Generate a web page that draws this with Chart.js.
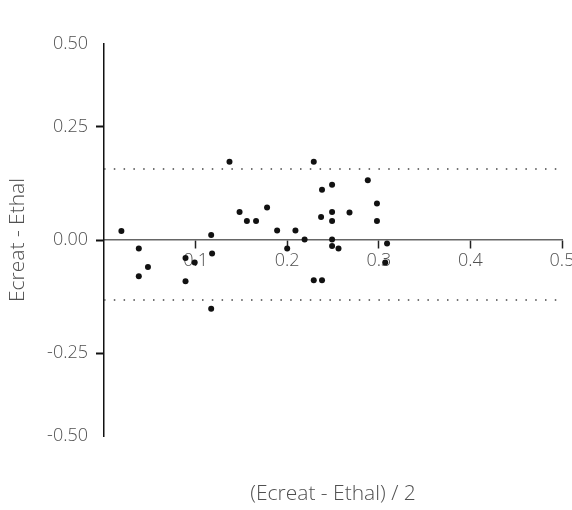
<!DOCTYPE html>
<html lang="en">
<head>
    <meta charset="UTF-8">
    <title>Ecreat - Ethal</title>
    <script src="https://cdn.jsdelivr.net/npm/chart.js"></script>
    <style>
        body { margin: 0; background: #fff; }
        canvas { display: block; }
    </style>
</head>
<body>
    <canvas id="baChart" width="572" height="510"></canvas>

    <script>
        // mean (x) and difference (y) of each paired measurement
        const meanVals = [
            0.019, 0.038, 0.038, 0.048, 0.089, 0.099, 0.089, 0.117, 0.118, 0.117,
            0.137, 0.148, 0.156, 0.166, 0.178, 0.189, 0.200, 0.209, 0.219, 0.229,
            0.229, 0.238, 0.238, 0.249, 0.237, 0.249, 0.249, 0.249, 0.249, 0.256,
            0.288, 0.298, 0.298, 0.268, 0.309, 0.307
        ];
        const diffVals = [
            0.020, -0.019, -0.080, -0.060, -0.040, -0.050, -0.091, 0.011, -0.030, -0.152,
            0.173, 0.062, 0.042, 0.042, 0.072, 0.021, -0.019, 0.021, 0.001, 0.173,
            -0.089, -0.089, 0.111, 0.122, 0.051, 0.062, 0.042, 0.001, -0.013, -0.019,
            0.132, 0.081, 0.042, 0.061, -0.008, -0.050
        ];
        // limits of agreement
        const upperLimit = 0.157;
        const lowerLimit = -0.133;

        const xTicks = [0.1, 0.2, 0.3, 0.4, 0.5];
        const xTickLabels = ['0.1', '0.2', '0.3', '0.4', '0.5'];
        // the axis ends carry the outer labels
        const yEnd = 0.4336;
        const yTicks = [-yEnd, -0.25, 0, 0.25, yEnd];
        const yTickLabels = ['-0.50', '-0.25', '0.00', '0.25', '0.50'];

        const points = meanVals.map((x, i) => ({ x: x, y: diffVals[i] }));
        const limitLine = v => [{ x: 0, y: v }, { x: 0.5, y: v }];

        const tickFont = { family: 'Open Sans', size: 18, weight: 300 };
        const titleFont = { family: 'Open Sans', size: 21, weight: 300 };
        const textColor = '#505050';

        const dotted = {
            type: 'line',
            borderColor: '#444',
            borderWidth: 1.5,
            borderDash: [1.5, 8.3],
            pointRadius: 0,
            fill: false
        };

        new Chart(document.getElementById('baChart'), {
            type: 'scatter',
            data: {
                datasets: [
                    {
                        data: points,
                        backgroundColor: '#111',
                        borderWidth: 0,
                        pointRadius: 3
                    },
                    Object.assign({ data: limitLine(upperLimit) }, dotted),
                    Object.assign({ data: limitLine(lowerLimit) }, dotted)
                ]
            },
            options: {
                responsive: false,
                animation: false,
                layout: { padding: { top: 44, right: 10, bottom: 0, left: 0 } },
                plugins: { legend: { display: false }, tooltip: { enabled: false } },
                scales: {
                    x: {
                        type: 'linear',
                        position: { y: 0 },
                        min: 0,
                        max: 0.5,
                        afterBuildTicks: s => { s.ticks = xTicks.map(v => ({ value: v })); },
                        afterFit: s => { s.height = 0; s.paddingRight = 0; },
                        ticks: {
                            font: tickFont,
                            color: textColor,
                            padding: 2,
                            maxRotation: 0,
                            callback: (v, i) => xTickLabels[i]
                        },
                        grid: {
                            drawOnChartArea: false,
                            drawTicks: true,
                            tickLength: 8,
                            tickColor: '#222',
                            tickWidth: 1.5
                        },
                        border: { color: '#666', width: 1.5 }
                    },
                    xTitle: {
                        type: 'linear',
                        axis: 'x',
                        position: 'bottom',
                        min: 0,
                        max: 0.5,
                        afterFit: s => { s.height = 74; },
                        ticks: { display: false },
                        grid: { display: false, drawTicks: false },
                        border: { display: false },
                        title: {
                            display: true,
                            text: '(Ecreat - Ethal) / 2',
                            font: titleFont,
                            color: textColor,
                            padding: { top: 0, bottom: 3 }
                        }
                    },
                    y: {
                        type: 'linear',
                        position: 'left',
                        min: -yEnd,
                        max: yEnd,
                        afterBuildTicks: s => { s.ticks = yTicks.map(v => ({ value: v })); },
                        afterFit: s => { s.width = 104; },
                        ticks: {
                            font: tickFont,
                            color: textColor,
                            padding: 8,
                            callback: (v, i) => yTickLabels[i]
                        },
                        grid: {
                            drawOnChartArea: false,
                            drawTicks: true,
                            tickLength: 8,
                            tickWidth: 2,
                            tickColor: c => (c.index === 0 || c.index === yTicks.length - 1) ? 'rgba(0,0,0,0)' : '#111'
                        },
                        border: { color: '#111', width: 1.5 },
                        title: {
                            display: true,
                            text: 'Ecreat - Ethal',
                            font: titleFont,
                            color: textColor,
                            padding: { top: 5, bottom: 0 }
                        }
                    }
                }
            }
        });
    </script>
</body>
</html>
